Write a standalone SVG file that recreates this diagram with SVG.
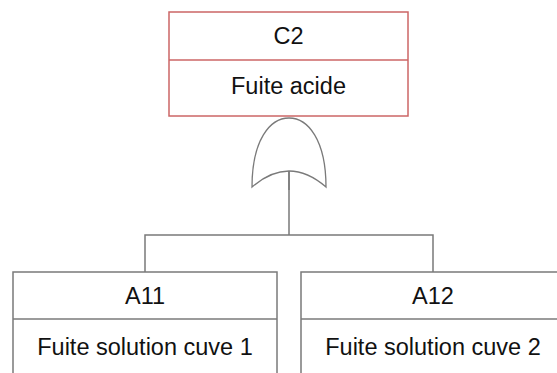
<svg xmlns="http://www.w3.org/2000/svg" width="557" height="373" viewBox="0 0 557 373">
<style>
.box{fill:#fff;stroke:#7a7a7a;stroke-width:1.5}
.top{fill:#fff;stroke:#cc6666;stroke-width:1.5}
.sep{stroke:#7a7a7a;stroke-width:1.5}
.sepr{stroke:#cc6666;stroke-width:1.5}
.wire{fill:none;stroke:#7a7a7a;stroke-width:1.5}
.gate{fill:#fff;stroke:#7a7a7a;stroke-width:1.3}
text{font-family:"Liberation Sans",Arial,sans-serif;font-size:23.5px;fill:#111;text-anchor:middle}
</style>
<rect width="557" height="373" fill="#fff"/>
<g id="connectors">
<path class="wire" d="M289,171 V235 M145,272 V235 H433 V272"/>
</g>
<g id="C2">
<rect class="top" x="169" y="12" width="239" height="104"/>
<line class="sepr" x1="169" y1="60" x2="408" y2="60"/>
<text x="288.5" y="44">C2</text>
<text x="288.5" y="94">Fuite acide</text>
</g>
<g id="gate">
<path class="gate" d="M252,187 C252,140 270,118 289,118 C308,118 326,140 326,187 Q289,155 252,187 Z"/>
<line class="wire" x1="289" y1="171" x2="289" y2="190"/>
</g>
<g id="A11">
<rect class="box" x="13" y="272" width="264" height="130"/>
<line class="sep" x1="13" y1="319" x2="277" y2="319"/>
<text x="145" y="304">A11</text>
<text x="145" y="355">Fuite solution cuve 1</text>
</g>
<g id="A12">
<rect class="box" x="301" y="272" width="264" height="130"/>
<line class="sep" x1="301" y1="319" x2="565" y2="319"/>
<text x="433" y="304">A12</text>
<text x="433" y="355">Fuite solution cuve 2</text>
</g>
</svg>
